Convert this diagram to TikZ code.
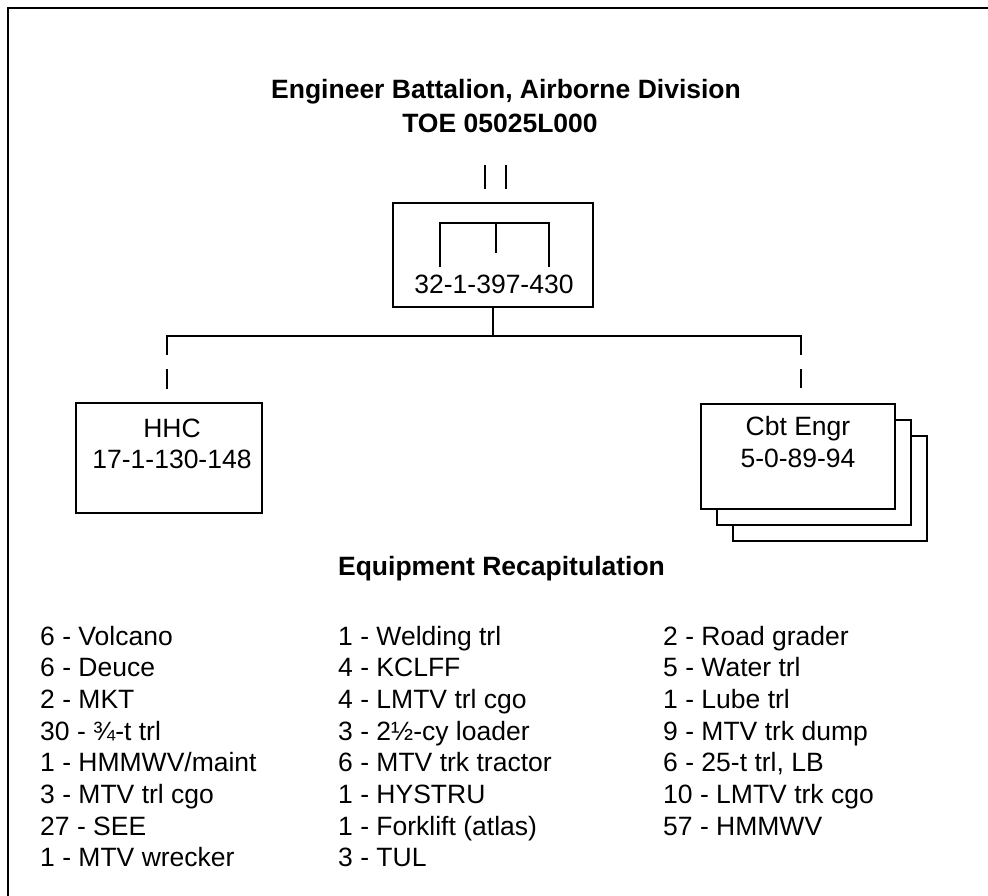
\documentclass[tikz,border=0pt]{standalone}
\usepackage{fontspec}
\setmainfont{Liberation Sans}
\begin{document}
\begin{tikzpicture}[x=1pt,y=-1pt,
  txt/.style={anchor=base,inner sep=0pt,font=\fontsize{26.5}{30}\selectfont},
  ttl/.style={txt,font=\fontsize{26.5}{30}\selectfont\bfseries},
  itm/.style={anchor=base west,inner sep=0pt,font=\fontsize{26.5}{30}\selectfont},
  unitbox/.style={draw,line width=1.4pt,fill=white,inner sep=0pt,minimum width=#1},
  ln/.style={line width=1.4pt}]
\useasboundingbox (0,0) rectangle (988,896);
% frame (top and left edges)
\draw[line width=2.2pt] (8,896) -- (8,8) -- (988,8);
% title
\node[ttl] (t1) at (506,99) {Engineer Battalion, Airborne Division};
\node[ttl] (t2) at (500,133) {TOE 05025L000};
% symbol marks above the battalion box
\draw[ln] (485,165) -- (485,189);
\draw[ln] (506,165) -- (506,189);
% battalion box
\node[unitbox=200pt,minimum height=104pt] (bn) at (493,255) {};
\node[txt] (bntxt) at (494,293) {32-1-397-430};
\draw[ln] (440,267) -- (440,223) -- (549,223) -- (549,267);
\draw[ln] (496,223) -- (496,253);
% connectors
\coordinate (jl) at (167,336);
\coordinate (jr) at (801,336);
\coordinate (jm) at (493,336);
\draw[ln] (bn.south) -- (jm);
\draw[ln] (167,355) -- (jl) -- (jr) -- (801,355);
\draw[ln] (167,369) -- (167,389);
\draw[ln] (801,369) -- (801,388);
% HHC
\node[unitbox=186pt,minimum height=110pt] (hhc) at (169,458) {};
\node[txt] (hhc1) at (172,437) {HHC};
\node[txt] (hhc2) at (172,468) {17-1-130-148};
% Cbt Engr (three stacked)
\node[unitbox=194pt,minimum height=105pt] (ce3) at (830,488.5) {};
\node[unitbox=194pt,minimum height=105pt] (ce2) at (814,472.5) {};
\node[unitbox=194pt,minimum height=105pt] (ce1) at (798,456.5) {};
\node[txt] (ce1a) at (798,435) {Cbt Engr};
\node[txt] (ce1b) at (798,467) {5-0-89-94};
% equipment recapitulation
\node[ttl] (eq) at (501.5,575) {Equipment Recapitulation};
\foreach \t [count=\i from 0] in {6 - Volcano,6 - Deuce,2 - MKT,30 - ¾-t trl,1 - HMMWV/maint,3 - MTV trl cgo,27 - SEE,1 - MTV wrecker}
  \node[itm] (a\i) at (40,645+31.7*\i) {\t};
\foreach \t [count=\i from 0] in {1 - Welding trl,4 - KCLFF,4 - LMTV trl cgo,3 - 2½-cy loader,6 - MTV trk tractor,1 - HYSTRU,1 - Forklift (atlas),3 - TUL}
  \node[itm] (b\i) at (338,645+31.7*\i) {\t};
\foreach \t [count=\i from 0] in {2 - Road grader,5 - Water trl,1 - Lube trl,9 - MTV trk dump,{6 - 25-t trl, LB},10 - LMTV trk cgo,57 - HMMWV}
  \node[itm] (c\i) at (663,645+31.7*\i) {\t};
\end{tikzpicture}
\end{document}
